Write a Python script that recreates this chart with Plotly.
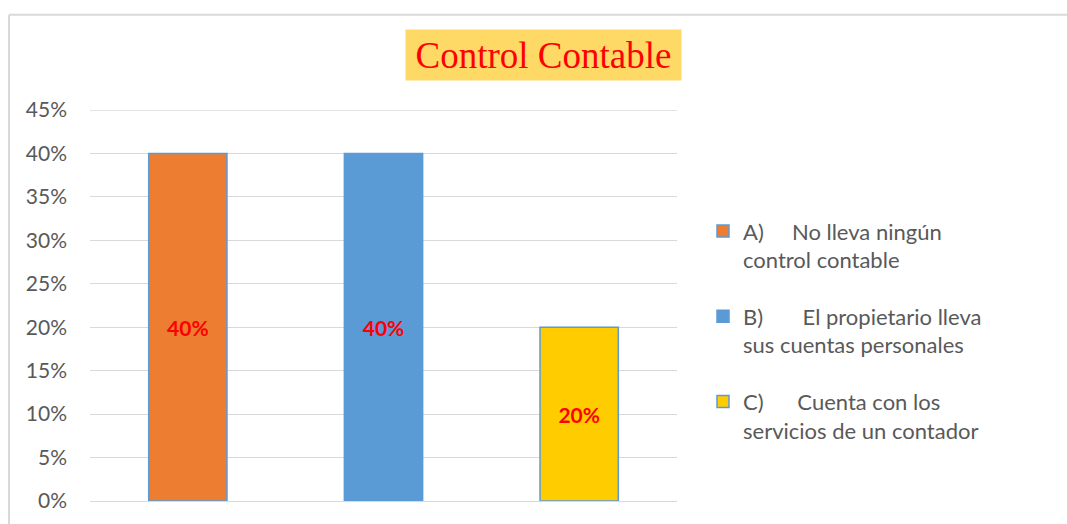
import plotly.graph_objects as go

categories = ["A", "B", "C"]
legend_labels = [
    "A)\u00a0\u00a0\u00a0\u00a0\u00a0No lleva ningún<br>control contable",
    "B)\u00a0\u00a0\u00a0\u00a0\u00a0\u00a0\u00a0El propietario lleva<br>sus cuentas personales",
    "C)\u00a0\u00a0\u00a0\u00a0\u00a0\u00a0Cuenta con los<br>servicios de un contador",
]
values = [0.40, 0.40, 0.20]
colors = ["#ED7D31", "#5B9BD5", "#FFCC00"]
tick_vals = [0, 0.05, 0.10, 0.15, 0.20, 0.25, 0.30, 0.35, 0.40, 0.45]
tick_text = ["0%", "5%", "10%", "15%", "20%", "25%", "30%", "35%", "40%", "45%"]
y_max = 0.45

W, H = 1067, 524
L, R, T, B = 90, 1067 - 677, 110, 20
pw, ph = W - L - R, H - T - B

def px_x(x):
    return (x - L) / pw

def px_y(y):
    return (H - B - y) / ph

fig = go.Figure()
for i in range(3):
    fig.add_trace(go.Bar(
        x=[categories[i]], y=[values[i]], name=legend_labels[i],
        legendgroup=categories[i],
        marker=dict(color=colors[i], line=dict(color="#5B9BD5", width=1.5)),
        width=0.4,
        texttemplate="%{y:.0%}", textposition="inside", insidetextanchor="middle",
        textangle=0,
        textfont=dict(family="Lato", size=21, color="#FF0000", weight="bold"),
    ))

fig.update_layout(
    width=W, height=H,
    margin=dict(l=L, r=R, t=T, b=B, pad=0),
    plot_bgcolor="white", paper_bgcolor="white",
    barmode="relative",
    showlegend=True,
    legend=dict(
        x=px_x(703), y=px_y(211), xanchor="left", yanchor="top",
        font=dict(family="Lato", size=22, color="#595959"),
        valign="top", tracegroupgap=25, itemwidth=30,
        bgcolor="rgba(0,0,0,0)",
    ),
    xaxis=dict(range=[-0.5, 2.5], showticklabels=False, showgrid=False,
               zeroline=False, showline=False, ticks=""),
    yaxis=dict(range=[0, y_max], tickvals=tick_vals, ticktext=tick_text,
               showgrid=True, gridcolor="#D9D9D9", gridwidth=1.3,
               zeroline=True, zerolinecolor="#D9D9D9", zerolinewidth=1.3,
               showline=False, ticks="",
               ticklabelstandoff=22,
               tickfont=dict(family="Lato", size=21, color="#595959")),
    annotations=[dict(
        text="Control Contable", xref="paper", yref="paper",
        x=px_x(543.5), y=px_y(55), xanchor="center", yanchor="middle",
        showarrow=False, bgcolor="#FFD966", borderpad=0,
        width=275, height=50,
        font=dict(family="Liberation Serif", size=37, color="#FF0000"),
    )],
    shapes=[
        dict(type="line", xref="paper", yref="y", layer="below",
             x0=0, x1=1, y0=y_max, y1=y_max,
             line=dict(color="#D9D9D9", width=1.3)),
        dict(type="line", xref="paper", yref="paper",
             x0=px_x(9), x1=px_x(9), y0=px_y(530), y1=px_y(14),
             line=dict(color="#D9D9D9", width=2)),
        dict(type="line", xref="paper", yref="paper",
             x0=px_x(9), x1=px_x(1075), y0=px_y(14), y1=px_y(14),
             line=dict(color="#D9D9D9", width=2)),
    ],
)

fig.write_html("out.html")
